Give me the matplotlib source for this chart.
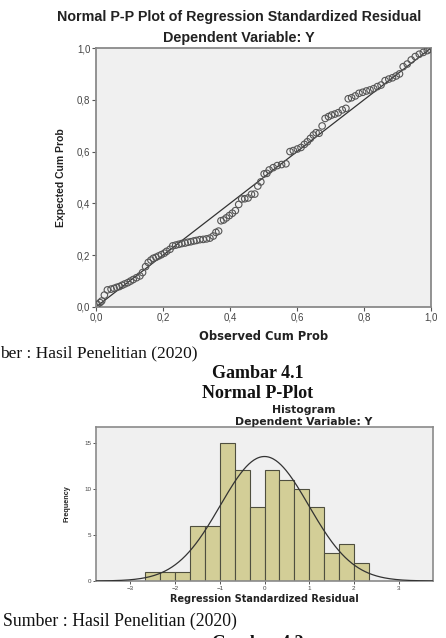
import numpy as np
import matplotlib
matplotlib.use("Agg")
import matplotlib.pyplot as plt

# P-P plot points (observed cum prob, expected cum prob)
obs_cum = [0.004, 0.012, 0.017, 0.025, 0.034, 0.045, 0.054, 0.062, 0.070, 0.078,
           0.086, 0.095, 0.103, 0.111, 0.121, 0.131, 0.139, 0.148, 0.156, 0.164,
           0.171, 0.179, 0.187, 0.195, 0.204, 0.211, 0.221, 0.229, 0.238, 0.247,
           0.256, 0.266, 0.274, 0.283, 0.292, 0.300, 0.310, 0.320, 0.330, 0.340,
           0.350, 0.358, 0.366, 0.373, 0.381, 0.389, 0.398, 0.407, 0.416, 0.426,
           0.435, 0.444, 0.454, 0.464, 0.474, 0.483, 0.492, 0.502, 0.510, 0.517,
           0.529, 0.541, 0.554, 0.567, 0.579, 0.589, 0.601, 0.612, 0.622, 0.631,
           0.640, 0.649, 0.657, 0.666, 0.675, 0.684, 0.694, 0.703, 0.713, 0.723,
           0.735, 0.746, 0.753, 0.763, 0.774, 0.785, 0.796, 0.807, 0.818, 0.829,
           0.840, 0.851, 0.863, 0.874, 0.885, 0.896, 0.906, 0.917, 0.929, 0.941,
           0.953, 0.965, 0.977, 0.989, 0.997]
exp_cum = [0.010, 0.017, 0.023, 0.046, 0.066, 0.069, 0.072, 0.076, 0.079, 0.084,
           0.089, 0.094, 0.100, 0.106, 0.113, 0.120, 0.133, 0.156, 0.172, 0.181,
           0.188, 0.192, 0.197, 0.202, 0.208, 0.215, 0.223, 0.236, 0.239, 0.242,
           0.245, 0.247, 0.250, 0.252, 0.255, 0.257, 0.260, 0.261, 0.263, 0.266,
           0.274, 0.288, 0.293, 0.333, 0.336, 0.344, 0.353, 0.362, 0.372, 0.396,
           0.417, 0.418, 0.421, 0.435, 0.436, 0.467, 0.483, 0.514, 0.516, 0.529,
           0.538, 0.546, 0.550, 0.553, 0.600, 0.604, 0.610, 0.616, 0.628, 0.638,
           0.651, 0.664, 0.673, 0.671, 0.699, 0.728, 0.735, 0.741, 0.745, 0.750,
           0.761, 0.767, 0.804, 0.808, 0.815, 0.825, 0.829, 0.834, 0.838, 0.843,
           0.851, 0.857, 0.874, 0.880, 0.885, 0.892, 0.900, 0.928, 0.938, 0.954,
           0.967, 0.976, 0.983, 0.990, 0.995]
pp_ticks = [0.0, 0.2, 0.4, 0.6, 0.8, 1.0]
pp_ticklabels = ["0,0", "0,2", "0,4", "0,6", "0,8", "1,0"]

# histogram of residuals
bin_start = -2.68
bin_width = 0.335
freq = [1, 1, 1, 6, 6, 15, 12, 8, 12, 11, 10, 8, 3, 4, 2]
hist_xticks = [-3, -2, -1, 0, 1, 2, 3]
hist_yticks = [0, 5, 10, 15]
resid_mean = 0.0
resid_sd = 0.99
n_obs = sum(freq)

W, H = 446, 638
SANS = "Liberation Sans"
WIDE = "DejaVu Sans"
SERIF = "Liberation Serif"
BG = "#F0F0F0"
SPINE = "#8a8a8a"


def fx(px):
    return px / W


def fy(py):
    return 1 - py / H


fig = plt.figure(figsize=(W / 100, H / 100), dpi=100)
fig.patch.set_facecolor("white")

# --- Normal P-P plot ---
ax = fig.add_axes([fx(96), fy(307), fx(431) - fx(96), fy(48) - fy(307)])
ax.set_facecolor(BG)
ax.plot([0, 1], [0, 1], color="#333333", lw=0.9, zorder=2)
ax.scatter(obs_cum, exp_cum, s=22, facecolors="none", edgecolors="#555555",
           linewidths=0.8, zorder=3)
ax.set_xlim(0, 1)
ax.set_ylim(0, 1)
ax.set_xticks(pp_ticks)
ax.set_xticklabels(pp_ticklabels)
ax.set_yticks(pp_ticks)
ax.set_yticklabels(pp_ticklabels)
ax.tick_params(labelsize=7, labelcolor="#444444", length=3, width=0.8,
               color="#555555", pad=1)
for lbl in ax.get_xticklabels() + ax.get_yticklabels():
    lbl.set_family(SANS)
for s in ax.spines.values():
    s.set_color(SPINE)
    s.set_linewidth(1.3)
ax.set_xlabel("Observed Cum Prob", family=WIDE, weight="bold", fontsize=8.3,
              color="#222222", labelpad=5)
ax.set_ylabel("Expected Cum Prob", family=SANS, weight="bold", fontsize=7.5,
              color="#222222", labelpad=8)

fig.text(fx(239), fy(17), "Normal P-P Plot of Regression Standardized Residual",
         family=SANS, weight="bold", fontsize=10.3, ha="center", va="center",
         color="#222222")
fig.text(fx(239), fy(38), "Dependent Variable: Y", family=SANS, weight="bold",
         fontsize=10.4, ha="center", va="center", color="#222222")

# --- captions ---
fig.text(fx(0), fy(353), "ber : Hasil Penelitian (2020)", family=SERIF,
         fontsize=12.5, ha="left", va="center", color="#111111")
fig.text(fx(258), fy(373), "Gambar 4.1", family=SERIF, weight="bold",
         fontsize=13, ha="center", va="center", color="#111111")
fig.text(fx(258), fy(393), "Normal P-Plot", family=SERIF, weight="bold",
         fontsize=13, ha="center", va="center", color="#111111")

# --- histogram ---
ah = fig.add_axes([fx(96), fy(581), fx(433) - fx(96), fy(427) - fy(581)])
ah.set_facecolor(BG)
edges = [bin_start + i * bin_width for i in range(len(freq) + 1)]
ah.bar(edges[:-1], freq, width=bin_width, align="edge", color="#D3CE97",
       edgecolor="#4f4f3f", linewidth=0.8, zorder=2)
xs = np.linspace(-3.77, 3.77, 400)
curve = n_obs * bin_width * np.exp(-0.5 * ((xs - resid_mean) / resid_sd) ** 2) \
    / (resid_sd * np.sqrt(2 * np.pi))
ah.plot(xs, curve, color="#333333", lw=0.9, zorder=3)
ah.set_xlim(-3.77, 3.77)
ah.set_ylim(0, 16.7)
ah.set_xticks(hist_xticks)
ah.set_yticks(hist_yticks)
ah.tick_params(labelsize=4.5, labelcolor="#444444", length=2.5, width=0.7,
               color="#555555", pad=1)
for lbl in ah.get_xticklabels() + ah.get_yticklabels():
    lbl.set_family(SANS)
for s in ah.spines.values():
    s.set_color(SPINE)
    s.set_linewidth(1.2)
ah.set_xlabel("Regression Standardized Residual", family=WIDE, weight="bold",
              fontsize=7, color="#222222", labelpad=2)
ah.set_ylabel("Frequency", family=SANS, weight="bold", fontsize=5.2,
              color="#222222", labelpad=10)

fig.text(fx(304), fy(410), "Histogram", family=WIDE, weight="bold",
         fontsize=7.8, ha="center", va="center", color="#222222")
fig.text(fx(304), fy(422), "Dependent Variable: Y", family=WIDE, weight="bold",
         fontsize=7.8, ha="center", va="center", color="#222222")

fig.text(fx(3), fy(621), "Sumber : Hasil Penelitian (2020)", family=SERIF,
         fontsize=12.8, ha="left", va="center", color="#111111")
# only the top of this caption is inside the page, as in the source scan
fig.text(fx(258), fy(635), "Gambar 4.2", family=SERIF, weight="bold",
         fontsize=13, ha="center", va="top", color="#111111")

fig.savefig("out.png", dpi=100)
